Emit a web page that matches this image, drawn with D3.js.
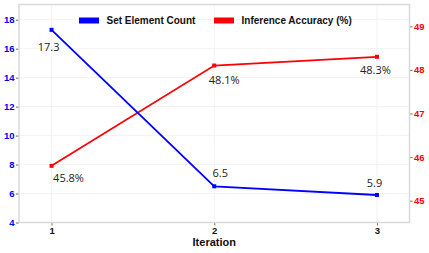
<!DOCTYPE html>
<html><head><meta charset="utf-8">
<script src="https://cdn.jsdelivr.net/npm/d3@7"></script>
<style>body{margin:0;background:#fff}svg{display:block}</style>
</head><body>
<svg id="c" width="429" height="253"></svg>
<script>
const iterations = [1, 2, 3];
const setElementCount = [17.3, 6.5, 5.9];
const inferenceAccuracy = [45.8, 48.1, 48.3];
const leftTicks = [4, 6, 8, 10, 12, 14, 16, 18];
const rightTicks = [45, 46, 47, 48, 49];
const seriesNames = ["Set Element Count", "Inference Accuracy (%)"];
const xTitle = "Iteration";

const svg = d3.select("#c");
const m = {l: 19, r: 19.5, t: 4.5, b: 30.5};
const W = 429, H = 253;
const x = d3.scaleLinear().domain([0.8, 3.2]).range([m.l, W - m.r]);
const yL = d3.scaleLinear().domain([4, 19.05]).range([H - m.b, m.t]);
const yR = d3.scaleLinear().domain([44.5, 49.5]).range([H - m.b, m.t]);
const BLUE = "#0000ff", RED = "#ff0000";

// grid
const g = svg.append("g");
g.selectAll(".gx").data(iterations).join("line")
  .attr("x1", d => x(d)).attr("x2", d => x(d)).attr("y1", m.t).attr("y2", H - m.b)
  .attr("stroke", "#f2f2f2").attr("stroke-width", 1);
g.selectAll(".gy").data(leftTicks).join("line")
  .attr("x1", m.l).attr("x2", W - m.r).attr("y1", d => yL(d)).attr("y2", d => yL(d))
  .attr("stroke", "#f2f2f2").attr("stroke-width", 1);

// axes
const fmtInt = d3.format("d");
const axL = svg.append("g").attr("transform", `translate(${m.l},0)`)
  .call(d3.axisLeft(yL).tickValues(leftTicks).tickFormat(fmtInt).tickSize(3).tickPadding(1.5));
const axR = svg.append("g").attr("transform", `translate(${W - m.r},0)`)
  .call(d3.axisRight(yR).tickValues(rightTicks).tickFormat(fmtInt).tickSize(3).tickPadding(1.5));
const axB = svg.append("g").attr("transform", `translate(0,${H - m.b})`)
  .call(d3.axisBottom(x).tickValues(iterations).tickFormat(fmtInt).tickSize(3).tickPadding(2));
[axL, axR, axB].forEach(a => {
  a.select(".domain").remove();
  a.selectAll(".tick line").attr("stroke", "#444").attr("stroke-width", 0.8);
  a.selectAll("text").attr("font-family", "Liberation Sans, Arial, sans-serif")
    .attr("font-weight", "bold").attr("font-size", 9.5);
});
axL.selectAll("text").attr("fill", BLUE);
axR.selectAll("text").attr("fill", RED);
axB.selectAll("text").attr("fill", "#111");

// panel border
svg.append("rect").attr("x", m.l).attr("y", m.t)
  .attr("width", W - m.l - m.r).attr("height", H - m.t - m.b)
  .attr("fill", "none").attr("stroke", "#d9d9d9").attr("stroke-width", 1.5);

// x title
svg.append("text").attr("x", x(2)).attr("y", 246).attr("text-anchor", "middle")
  .attr("font-family", "Liberation Sans, Arial, sans-serif").attr("font-weight", "bold")
  .attr("font-size", 11).attr("fill", "#111").text(xTitle);

// series
const blueData = iterations.map((d, i) => ({x: d, y: setElementCount[i]}));
const redData = iterations.map((d, i) => ({x: d, y: inferenceAccuracy[i]}));
function drawSeries(data, ys, color) {
  const line = d3.line().x(d => x(d.x)).y(d => ys(d.y));
  svg.append("path").datum(data).attr("d", line).attr("fill", "none")
    .attr("stroke", color).attr("stroke-width", 1.8);
  svg.append("g").selectAll("rect").data(data).join("rect")
    .attr("x", d => x(d.x) - 2).attr("y", d => ys(d.y) - 2)
    .attr("width", 4).attr("height", 4).attr("fill", color);
}
drawSeries(redData, yR, RED);
drawSeries(blueData, yL, BLUE);

// labels (repel-style nudges, layout only)
const blueNudge = [[-3, 17], [6, -13], [-2.5, -12]];
const redNudge = [[17, 12], [10, 14.5], [-1.5, 13.7]];
function drawLabels(data, ys, nudge, fmt) {
  svg.append("g").selectAll("text").data(data).join("text")
    .attr("x", (d, i) => x(d.x) + nudge[i][0])
    .attr("y", (d, i) => ys(d.y) + nudge[i][1])
    .attr("dy", "0.35em").attr("text-anchor", "middle")
    .attr("font-family", "Open Sans, Noto Sans, sans-serif").attr("font-size", 11)
    .attr("fill", "#222").text(fmt);
}
drawLabels(blueData, yL, blueNudge, d => d.y.toFixed(1));
drawLabels(redData, yR, redNudge, d => d.y.toFixed(1) + "%");

// legend
const leg = svg.append("g");
const legX = [79, 214];
seriesNames.forEach((name, i) => {
  leg.append("rect").attr("x", legX[i]).attr("y", 17.5).attr("width", 20).attr("height", 6)
    .attr("fill", i === 0 ? BLUE : RED);
  leg.append("text").attr("x", legX[i] + 27.5).attr("y", 24)
    .attr("font-family", "Liberation Sans, Arial, sans-serif").attr("font-weight", "bold")
    .attr("font-size", 10).attr("fill", "#111").text(name);
});
</script>
</body></html>
